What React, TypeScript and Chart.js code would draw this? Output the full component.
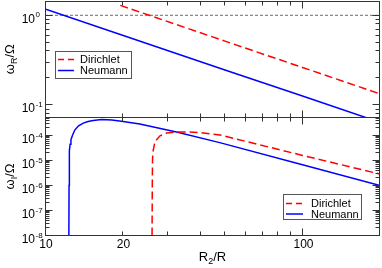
import React, { useEffect, useRef } from "react";
import { Chart, registerables } from "chart.js";

Chart.register(...registerables);

// ---------- data ----------
const X_MIN = 10;
const X_MAX = 200;
const X_TICK_LABELS = [10, 20, 100];
const X_TICKS = [20, 30, 40, 50, 60, 70, 80, 90, 100];

const TOP_Y_MIN = 0.0725;
const TOP_Y_MAX = 1.443;
const TOP_Y_LABELS = [0.1, 1];

const BOT_Y_MIN = 1e-8;
const BOT_Y_MAX = 5.25e-4;
const BOT_Y_LABELS = [1e-8, 1e-7, 1e-6, 1e-5, 1e-4];

const SERIES = ["Dirichlet", "Neumann"];

// top panel: omega_R / Omega
const topDirichletX = [19.6, 25.4, 50, 100, 200];
const topDirichletY = [1.29, 1.0, 0.515, 0.262, 0.133];
const topNeumannX = [10, 20, 50, 100, 200];
const topNeumannY = [1.18, 0.6, 0.245, 0.126, 0.064];
const unityX = [10, 200];
const unityY = [1, 1];

// bottom panel: omega_I / Omega
const botDirichletX = [26.05, 26.1, 26.15, 26.25, 26.74, 27.97, 29.69, 32.46, 36.0, 40, 47.8, 100, 200];
const botDirichletY = [1e-8, 1e-6, 1e-5, 2.2e-5, 5.75e-5, 9.7e-5, 1.25e-4, 1.38e-4, 1.4e-4, 1.3e-4, 1.05e-4, 1.6e-5, 2.86e-6];
const botNeumannX = [12.38, 12.4, 12.42, 12.45, 12.52, 12.61, 12.8, 13.07, 13.5, 14.08, 14.7, 15.39, 16.6, 18.2, 20.1, 23.35, 32.4, 47.7, 100, 200];
const botNeumannY = [1e-8, 1e-6, 1e-5, 2.5e-5, 4.5e-5, 6.7e-5, 1.05e-4, 1.69e-4, 2.45e-4, 3.13e-4, 3.65e-4, 3.98e-4, 4.33e-4, 4.2e-4, 3.65e-4, 2.86e-4, 1.37e-4, 5.2e-5, 6.8e-6, 1.0e-6];

// ---------- styling ----------
const FONT = '"Liberation Sans", Arial, Helvetica, sans-serif';
const FRAME = "#333";
const RED = "#ff0000";
const BLUE = "#0000ff";
const W = 382;
const H = 268;

const pts = (xs: number[], ys: number[]) => xs.map((x, i) => ({ x, y: ys[i] }));

type Seg = { t: string; size: number; dy: number };

function drawRich(ctx: CanvasRenderingContext2D, segs: Seg[], x: number, y: number) {
  let w = 0;
  for (const s of segs) {
    ctx.font = `${s.size}px ${FONT}`;
    w += ctx.measureText(s.t).width;
  }
  let cx = x - w / 2;
  ctx.textAlign = "left";
  ctx.textBaseline = "alphabetic";
  for (const s of segs) {
    ctx.font = `${s.size}px ${FONT}`;
    ctx.fillText(s.t, cx, y + s.dy);
    cx += ctx.measureText(s.t).width;
  }
}

function line(ctx: CanvasRenderingContext2D, x0: number, y0: number, x1: number, y1: number) {
  ctx.beginPath();
  ctx.moveTo(x0, y0);
  ctx.lineTo(x1, y1);
  ctx.stroke();
}

type LegendSpec = { x: number; y: number; w: number; h: number; rows: number[]; s0: number; s1: number; tx: number };

type PanelSpec = {
  yLabels: number[];
  title: Seg[];
  legend: LegendSpec;
  xLabels: boolean;
};

function decor(spec: PanelSpec) {
  return {
    id: "decor",
    afterDraw(chart: any) {
      const ctx: CanvasRenderingContext2D = chart.ctx;
      const xs = chart.scales.x;
      const ys = chart.scales.y;
      const { left, right, top, bottom } = chart.chartArea;
      const L = Math.floor(left) + 0.5;
      const R = Math.ceil(right) - 0.5;
      const T = Math.floor(top) + 0.5;
      const B = Math.floor(bottom) + 0.5;
      ctx.save();
      ctx.setLineDash([]);
      ctx.strokeStyle = FRAME;
      ctx.lineWidth = 1;
      ctx.strokeRect(L, T, R - L, B - T);

      // x ticks (inward, top and bottom)
      for (const v of X_TICKS) {
        const px = Math.floor(xs.getPixelForValue(v)) + 0.5;
        const len = v === 100 ? 7 : 4;
        line(ctx, px, T, px, T + len);
        line(ctx, px, B, px, B - len);
      }
      // y ticks (inward, left and right)
      const d0 = Math.floor(Math.log10(ys.min));
      const d1 = Math.ceil(Math.log10(ys.max));
      for (let d = d0; d <= d1; d++) {
        for (let m = 1; m <= 9; m++) {
          const v = m * Math.pow(10, d);
          if (v <= ys.min * 1.0001 || v >= ys.max * 0.9999) continue;
          const py = Math.floor(ys.getPixelForValue(v)) + 0.5;
          const len = m === 1 ? 7 : 4;
          line(ctx, L, py, L + len, py);
          line(ctx, R, py, R - len, py);
        }
      }

      // y labels 10^n
      ctx.fillStyle = "#000";
      for (const v of spec.yLabels) {
        const py = ys.getPixelForValue(v);
        const e = String(Math.round(Math.log10(v)));
        ctx.textBaseline = "alphabetic";
        ctx.font = `12px ${FONT}`;
        ctx.textAlign = "right";
        ctx.fillText("10", 35, py + 7.5);
        ctx.font = `8px ${FONT}`;
        ctx.textAlign = "left";
        ctx.fillText(e, 35.5, py + 2);
      }

      // y title (rotated)
      ctx.save();
      ctx.translate(13.5, (top + bottom) / 2);
      ctx.rotate(-Math.PI / 2);
      drawRich(ctx, spec.title, 0, 0);
      ctx.restore();

      // x labels + title
      if (spec.xLabels) {
        ctx.font = `12px ${FONT}`;
        ctx.textAlign = "center";
        ctx.textBaseline = "alphabetic";
        for (const v of X_TICK_LABELS) {
          ctx.fillText(String(v), xs.getPixelForValue(v) + 1, 247.5);
        }
        drawRich(
          ctx,
          [
            { t: "R", size: 13, dy: 0 },
            { t: "2", size: 9, dy: 3 },
            { t: "/R", size: 13, dy: 0 },
          ],
          (left + right) / 2,
          260.5
        );
      }

      // legend
      const lg = spec.legend;
      ctx.fillStyle = "#fff";
      ctx.fillRect(lg.x, lg.y, lg.w, lg.h);
      ctx.strokeStyle = "#555";
      ctx.lineWidth = 1;
      ctx.strokeRect(lg.x + 0.5, lg.y + 0.5, lg.w, lg.h);
      SERIES.forEach((name, i) => {
        const ds = chart.data.datasets.find((d: any) => d.label === name);
        const ry = lg.y + lg.rows[i];
        ctx.strokeStyle = ds.borderColor;
        ctx.lineWidth = 1.5;
        ctx.setLineDash(ds.borderDash && ds.borderDash.length ? [6, 4] : []);
        line(ctx, lg.x + lg.s0, ry, lg.x + lg.s1, ry);
        ctx.setLineDash([]);
        ctx.fillStyle = "#000";
        ctx.font = `11px ${FONT}`;
        ctx.textAlign = "left";
        ctx.textBaseline = "middle";
        ctx.fillText(name, lg.x + lg.tx, ry + 0.5);
      });
      ctx.restore();
    },
  };
}

function makeChart(
  canvas: HTMLCanvasElement,
  datasets: any[],
  yMin: number,
  yMax: number,
  areaTop: number,
  areaBottom: number,
  spec: PanelSpec
) {
  return new Chart(canvas, {
    type: "line",
    data: { datasets },
    options: {
      responsive: false,
      animation: false,
      devicePixelRatio: 1,
      events: [],
      layout: { padding: { left: 45, right: W - 380, top: areaTop, bottom: H - areaBottom } },
      plugins: { legend: { display: false }, tooltip: { enabled: false } },
      elements: { point: { radius: 0 }, line: { tension: 0 } },
      scales: {
        x: { type: "logarithmic", min: X_MIN, max: X_MAX, display: false, bounds: "data" },
        y: { type: "logarithmic", min: yMin, max: yMax, display: false, bounds: "data" },
      },
    } as any,
    plugins: [decor(spec)],
  });
}

export default function App() {
  const topRef = useRef<HTMLCanvasElement>(null);
  const botRef = useRef<HTMLCanvasElement>(null);

  useEffect(() => {
    const topChart = makeChart(
      topRef.current!,
      [
        { label: "Dirichlet", data: pts(topDirichletX, topDirichletY), borderColor: RED, borderDash: [8, 4], borderWidth: 1.5, fill: false },
        { label: "Neumann", data: pts(topNeumannX, topNeumannY), borderColor: BLUE, borderWidth: 1.5, fill: false },
        { label: "unity", data: pts(unityX, unityY), borderColor: "#444", borderDash: [3, 2], borderWidth: 0.8, fill: false },
      ],
      TOP_Y_MIN,
      TOP_Y_MAX,
      1,
      117.5,
      {
        yLabels: TOP_Y_LABELS,
        title: [
          { t: "ω", size: 13, dy: 0 },
          { t: "R", size: 9, dy: 3 },
          { t: "/Ω", size: 13, dy: 0 },
        ],
        legend: { x: 55, y: 51, w: 76, h: 27, rows: [8.5, 19.5], s0: 3, s1: 19, tx: 25 },
        xLabels: false,
      }
    );
    const botChart = makeChart(
      botRef.current!,
      [
        { label: "Dirichlet", data: pts(botDirichletX, botDirichletY), borderColor: RED, borderDash: [8, 4], borderWidth: 1.5, fill: false },
        { label: "Neumann", data: pts(botNeumannX, botNeumannY), borderColor: BLUE, borderWidth: 1.5, fill: false },
      ],
      BOT_Y_MIN,
      BOT_Y_MAX,
      117.5,
      235.5,
      {
        yLabels: BOT_Y_LABELS,
        title: [
          { t: "ω", size: 13, dy: 0 },
          { t: "I", size: 9, dy: 3 },
          { t: "/Ω", size: 13, dy: 0 },
        ],
        legend: { x: 283, y: 194, w: 78, h: 25, rows: [9.5, 20], s0: 3, s1: 20, tx: 28 },
        xLabels: true,
      }
    );
    return () => {
      topChart.destroy();
      botChart.destroy();
    };
  }, []);

  return (
    <div style={{ position: "fixed", left: 0, top: 0, width: W, height: H, background: "#fff" }}>
      <canvas ref={topRef} width={W} height={H} style={{ position: "absolute", left: 0, top: 0 }} />
      <canvas ref={botRef} width={W} height={H} style={{ position: "absolute", left: 0, top: 0 }} />
    </div>
  );
}
